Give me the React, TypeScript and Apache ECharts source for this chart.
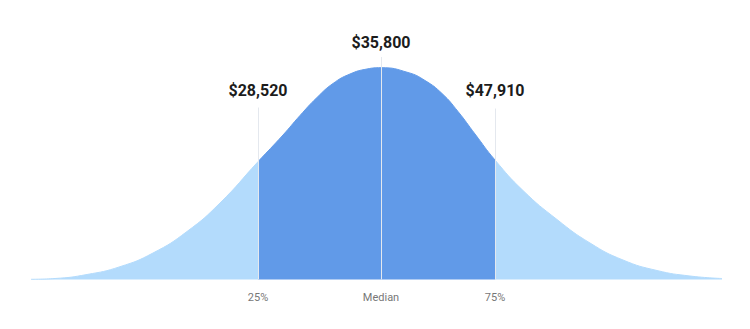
import React, { useEffect, useRef } from "react";
import * as echarts from "echarts";

// Curve profile: horizontal position along the distribution and curve height.
const positions = [0, 24, 56, 89, 122, 156, 189, 227, 252, 269, 286, 302, 319, 336, 350, 377, 394, 411, 427, 444, 464, 492, 526, 559, 592, 626, 659, 691];
const heights = [0.2, 1, 5, 12.8, 26.5, 48, 76.5, 117.8, 144.5, 164, 182, 196, 205.5, 210.5, 211.8, 207, 199, 186, 168, 145.5, 119.5, 89, 60, 36.5, 19.5, 9, 3.5, 1];

// Percentile markers
const markerNames = ["25%", "Median", "75%"];
const markerPositions = [227, 350, 464];
const markerSalaries = ["$28,520", "$35,800", "$47,910"];
const markerLineTops = [172, 222.5, 171];
const markerLabelGaps = [9, 7, 10];

const LIGHT = "#b3dbfc";
const DARK = "#619ae8";

export default function App() {
  const ref = useRef<HTMLDivElement>(null);

  useEffect(() => {
    if (!ref.current) return;
    const chart = echarts.init(ref.current, undefined, { renderer: "svg" });
    const data = positions.map((p, i) => [p, heights[i]]);

    chart.setOption({
      animation: false,
      textStyle: { fontFamily: "Roboto" },
      grid: { left: 31, right: 28, top: 29.5, bottom: 49.5 },
      xAxis: {
        type: "value",
        min: 0,
        max: 691,
        axisLine: { show: false },
        axisTick: { show: false },
        splitLine: { show: false },
        axisLabel: {
          customValues: markerPositions,
          formatter: (v: number) => {
            const i = markerPositions.indexOf(v);
            return i >= 0 ? markerNames[i] : "";
          },
          color: "#777777",
          fontSize: 11,
          margin: 12,
          fontFamily: "Roboto",
        },
      },
      yAxis: {
        type: "value",
        min: 0,
        max: 250,
        show: false,
      },
      visualMap: {
        type: "piecewise",
        show: false,
        dimension: 0,
        seriesIndex: 0,
        pieces: [
          { lt: markerPositions[0], color: LIGHT },
          { gte: markerPositions[0], lte: markerPositions[2], color: DARK },
          { gt: markerPositions[2], color: LIGHT },
        ],
      },
      series: [
        {
          type: "line",
          data,
          smooth: 0.5,
          showSymbol: false,
          clip: false,
          lineStyle: { width: 1 },
          areaStyle: { opacity: 1 },
          markLine: {
            silent: true,
            symbol: ["none", "none"],
            lineStyle: { color: "#e4e8ee", width: 1, type: "solid" },
            label: {
              show: true,
              position: "end",
              distance: 7,
              fontSize: 16,
              fontWeight: "bold",
              color: "#1c1c1c",
              fontFamily: "Roboto",
            },
            data: markerPositions.map((p, i) => [
              { coord: [p, 0] },
              {
                coord: [p, markerLineTops[i]],
                label: { formatter: markerSalaries[i], distance: markerLabelGaps[i] },
              },
            ]),
          },
        },
      ],
    });

    return () => chart.dispose();
  }, []);

  return (
    <div
      ref={ref}
      style={{ position: "fixed", left: 0, top: 0, width: 750, height: 329, background: "#ffffff" }}
    />
  );
}
